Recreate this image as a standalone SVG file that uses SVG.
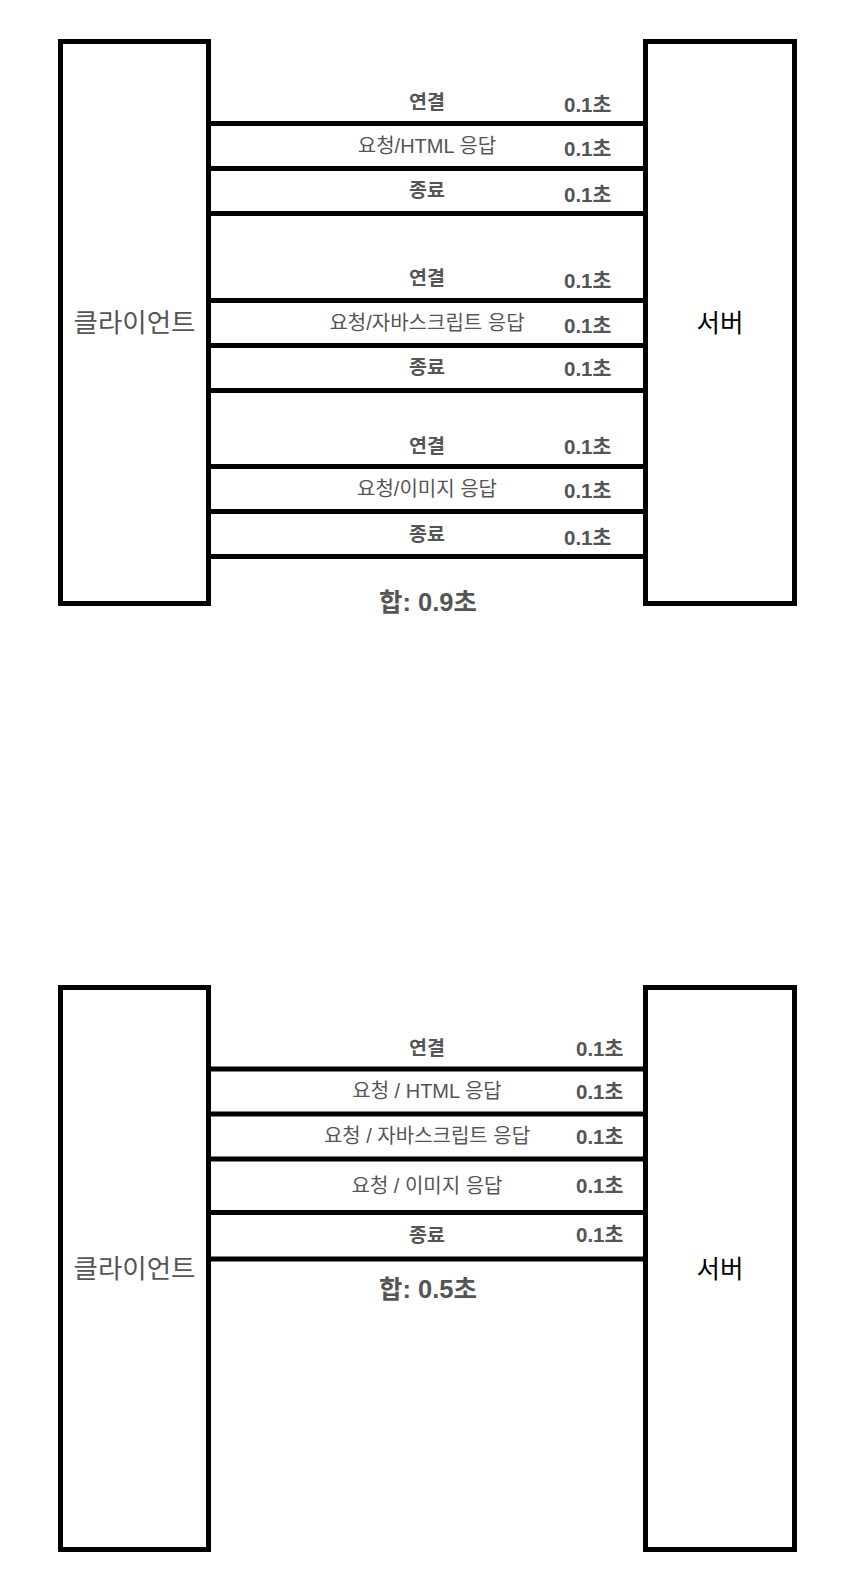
<svg xmlns="http://www.w3.org/2000/svg" width="854" height="1584" viewBox="0 0 854 1584">
<style>
.box{fill:#fff;stroke:#000;stroke-width:5}
.ln{stroke:#000;stroke-width:5;fill:none}
text{font-family:"Liberation Sans","Noto Sans CJK KR",sans-serif;fill:#555}
.lb{font-size:20px;text-anchor:middle}
.b{font-weight:bold;font-size:19.5px}
.t{font-size:20.5px;font-weight:bold}
.big{font-size:26.5px}
.srv{font-size:25.5px;fill:#000}
.sum{font-size:25.5px;font-weight:bold;text-anchor:middle}
</style>
<rect width="854" height="1584" fill="#fff"/>
<g id="client1"><rect class="box" x="60.5" y="41.5" width="148" height="562"/><text class="big" x="134.5" y="331.5" text-anchor="middle">클라이언트</text></g>
<g id="server1"><rect class="box" x="645.5" y="41.5" width="149" height="562"/><text class="srv" x="720" y="331.5" text-anchor="middle">서버</text></g>
<g id="connectors1">
<path class="ln" d="M211 123.5H643M211 168.5H643M211 213.5H643M211 300.5H643M211 345.5H643M211 390.5H643M211 466.5H643M211 511.5H643M211 556.5H643"/>
</g>
<g id="labels1">
<text class="lb b" x="427" y="108.5">연결</text><text class="t" x="564" y="111.5">0.1초</text>
<text class="lb" x="427" y="153">요청/HTML 응답</text><text class="t" x="564" y="155.5">0.1초</text>
<text class="lb b" x="427" y="197">종료</text><text class="t" x="564" y="202">0.1초</text>
<text class="lb b" x="427" y="285">연결</text><text class="t" x="564" y="287.5">0.1초</text>
<text class="lb" x="427" y="330">요청/자바스크립트 응답</text><text class="t" x="564" y="332.5">0.1초</text>
<text class="lb b" x="427" y="374">종료</text><text class="t" x="564" y="375.5">0.1초</text>
<text class="lb b" x="427" y="452.5">연결</text><text class="t" x="564" y="454">0.1초</text>
<text class="lb" x="427" y="496">요청/이미지 응답</text><text class="t" x="564" y="497.5">0.1초</text>
<text class="lb b" x="427" y="541">종료</text><text class="t" x="564" y="544.5">0.1초</text>
<text class="sum" x="428" y="610.5">합: 0.9초</text>
</g>
<g id="client2"><rect class="box" x="60.5" y="987.5" width="148" height="562"/><text class="big" x="134.5" y="1277.5" text-anchor="middle">클라이언트</text></g>
<g id="server2"><rect class="box" x="645.5" y="987.5" width="149" height="562"/><text class="srv" x="720" y="1277.5" text-anchor="middle">서버</text></g>
<g id="connectors2">
<path class="ln" d="M211 1069H643M211 1114H643M211 1159H643M211 1212.5H643M211 1259H643"/>
</g>
<g id="labels2">
<text class="lb b" x="427" y="1054.5">연결</text><text class="t" x="576" y="1055.5">0.1초</text>
<text class="lb" x="427" y="1097.5">요청 / HTML 응답</text><text class="t" x="576" y="1099">0.1초</text>
<text class="lb" x="427" y="1143">요청 / 자바스크립트 응답</text><text class="t" x="576" y="1144">0.1초</text>
<text class="lb" x="427" y="1192.5">요청 / 이미지 응답</text><text class="t" x="576" y="1193">0.1초</text>
<text class="lb b" x="427" y="1242">종료</text><text class="t" x="576" y="1242">0.1초</text>
<text class="sum" x="428" y="1298">합: 0.5초</text>
</g>
</svg>
